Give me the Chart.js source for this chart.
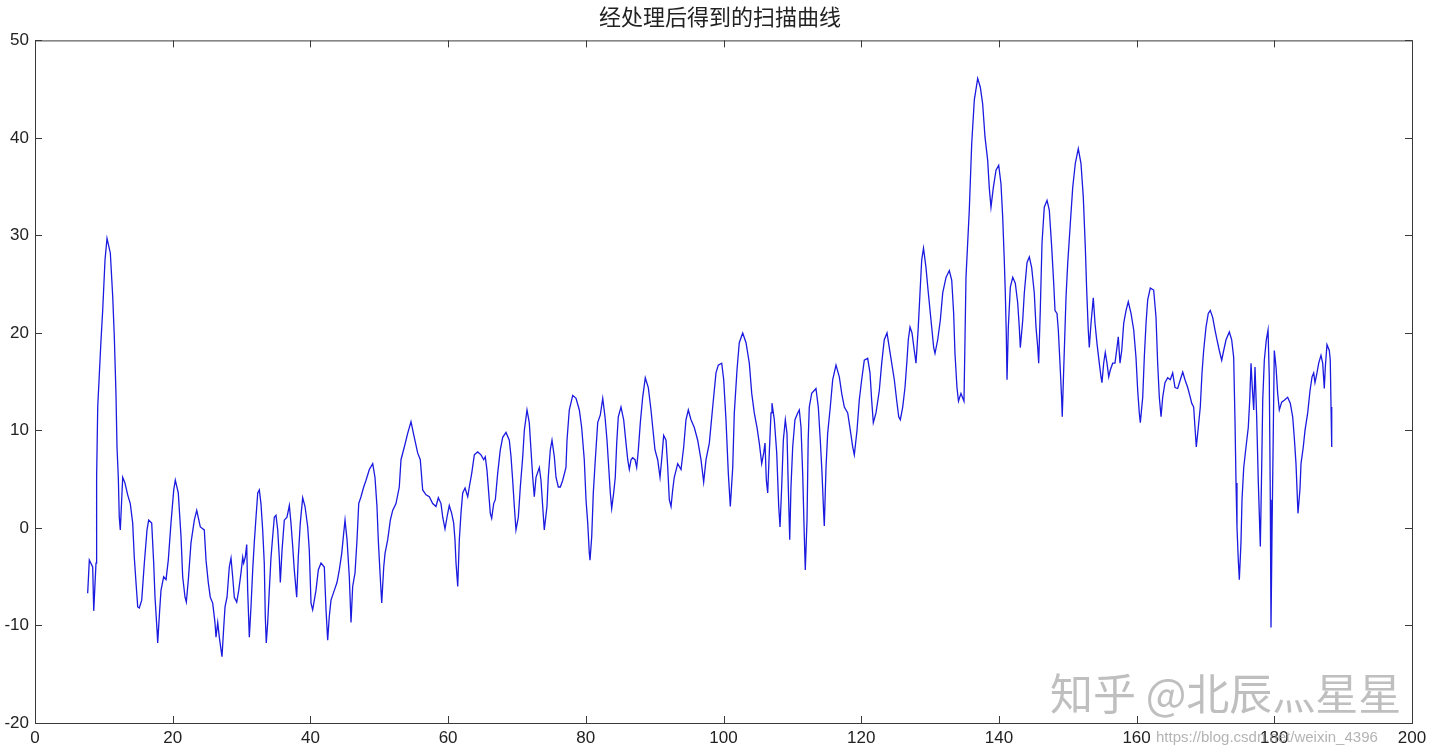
<!DOCTYPE html>
<html>
<head>
<meta charset="utf-8">
<script src="https://cdn.jsdelivr.net/npm/chart.js@4.4.1/dist/chart.umd.min.js"></script>
<style>
  html, body { margin: 0; padding: 0; background: #fff; }
  #chartBox { width: 1440px; height: 756px; position: relative; }
</style>
</head>
<body>
<div id="chartBox"><canvas id="scanChart"></canvas></div>
<script>
// curve: x positions and values
const xs = [7.65, 7.89, 8.38, 8.53, 8.86, 8.95, 9.11, 9.59, 9.83, 10.17, 10.46, 10.94, 11.29, 11.52, 11.76, 11.91, 12.10, 12.24, 12.39, 12.74,
  13.07, 13.46, 13.84, 14.19, 14.42, 14.67, 14.92, 15.15, 15.50, 15.88, 16.27, 16.51, 16.95, 17.24, 17.43, 17.72, 17.82, 18.11, 18.30, 18.69,
  19.03, 19.36, 19.75, 20.15, 20.38, 20.81, 21.21, 21.45, 21.79, 21.98, 22.27, 22.66, 23.14, 23.49, 24.01, 24.59, 24.84, 25.17, 25.46, 25.81,
  26.14, 26.29, 26.54, 26.77, 27.02, 27.16, 27.41, 27.60, 27.89, 28.22, 28.47, 28.71, 28.95, 29.30, 29.59, 29.92, 30.17, 30.31, 30.54, 30.75,
  30.89, 31.13, 31.37, 31.62, 31.85, 32.10, 32.35, 32.58, 32.82, 33.07, 33.30, 33.45, 33.59, 33.80, 34.03, 34.28, 34.52, 34.76, 35.00, 35.25,
  35.48, 35.63, 35.88, 36.21, 36.60, 36.94, 37.18, 37.43, 37.66, 38.01, 38.24, 38.53, 38.88, 39.22, 39.61, 39.84, 40.09, 40.33, 40.57, 40.81,
  41.15, 41.54, 42.02, 42.27, 42.51, 42.74, 42.99, 43.47, 43.86, 44.20, 44.55, 44.84, 45.03, 45.32, 45.65, 45.90, 46.14, 46.48, 46.77, 47.02,
  47.35, 47.74, 48.08, 48.56, 49.05, 49.38, 49.67, 49.86, 50.11, 50.36, 50.65, 50.84, 51.23, 51.61, 51.95, 52.43, 52.91, 53.16, 53.64, 54.13,
  54.61, 55.09, 55.58, 55.96, 56.31, 56.79, 57.27, 57.76, 58.24, 58.58, 58.97, 59.22, 59.55, 59.84, 60.17, 60.52, 60.81, 61.00, 61.15, 61.40,
  61.63, 61.87, 62.12, 62.46, 62.85, 63.08, 63.43, 63.81, 64.30, 64.78, 65.17, 65.40, 65.65, 65.90, 66.13, 66.33, 66.62, 66.86, 67.20, 67.58,
  67.93, 68.41, 68.89, 69.14, 69.38, 69.62, 69.86, 70.20, 70.49, 70.84, 71.07, 71.46, 71.79, 72.04, 72.29, 72.52, 72.77, 73.25, 73.49, 73.74,
  73.97, 74.36, 74.55, 74.84, 75.09, 75.43, 75.67, 76.01, 76.30, 76.65, 77.12, 77.27, 77.60, 78.10, 78.58, 79.06, 79.40, 79.78, 80.03, 80.28,
  80.51, 80.61, 80.86, 81.09, 81.38, 81.73, 82.11, 82.46, 82.79, 83.08, 83.33, 83.56, 83.76, 84.05, 84.28, 84.49, 84.72, 85.11, 85.50, 85.84,
  86.09, 86.32, 86.57, 86.81, 87.15, 87.39, 87.63, 87.92, 88.26, 88.64, 89.08, 89.47, 89.72, 90.05, 90.44, 90.78, 91.02, 91.31, 91.65, 91.90,
  92.13, 92.38, 92.62, 92.85, 93.35, 93.83, 94.22, 94.55, 94.89, 95.28, 95.76, 96.25, 96.73, 97.12, 97.46, 97.94, 98.43, 98.91, 99.24, 99.74,
  100.03, 100.36, 100.70, 100.99, 101.34, 101.57, 101.96, 102.29, 102.79, 103.27, 103.75, 104.10, 104.47, 104.87, 105.20, 105.55, 105.84, 106.03, 106.22, 106.42,
  106.65, 106.90, 107.04, 107.38, 107.73, 108.02, 108.21, 108.45, 108.69, 108.98, 109.22, 109.41, 109.62, 109.80, 110.05, 110.38, 110.78, 111.01, 111.26, 111.50,
  111.74, 111.88, 112.13, 112.30, 112.46, 112.81, 113.43, 113.77, 114.06, 114.31, 114.55, 114.64, 114.89, 115.13, 115.51, 115.86, 116.34, 116.82, 117.17, 117.55,
  118.04, 118.42, 118.77, 119.00, 119.39, 119.72, 120.07, 120.45, 120.94, 121.28, 121.52, 121.76, 122.15, 122.63, 122.98, 123.35, 123.75, 124.08, 124.43, 124.81,
  125.15, 125.45, 125.68, 126.03, 126.36, 126.65, 126.84, 127.09, 127.38, 127.71, 127.96, 128.29, 128.54, 128.79, 129.05, 129.41, 129.75, 130.14, 130.53, 130.72,
  131.11, 131.49, 131.84, 132.32, 132.80, 133.15, 133.43, 133.62, 133.91, 134.13, 134.49, 134.93, 135.22, 135.70, 136.05, 136.43, 136.92, 137.30, 137.64, 137.98,
  138.37, 138.60, 138.85, 139.19, 139.58, 139.97, 140.30, 140.55, 140.78, 140.93, 141.07, 141.18, 141.37, 141.66, 142.01, 142.38, 142.73, 142.96, 143.11, 143.46,
  143.69, 144.08, 144.42, 144.76, 145.14, 145.39, 145.64, 145.78, 146.01, 146.26, 146.59, 146.99, 147.32, 147.67, 147.96, 148.15, 148.44, 148.63, 148.92, 149.12,
  149.20, 149.41, 149.75, 150.00, 150.37, 150.72, 151.10, 151.53, 151.92, 152.26, 152.55, 152.75, 152.98, 153.13, 153.38, 153.71, 153.96, 154.25, 154.58, 154.83,
  154.97, 155.22, 155.45, 155.70, 155.95, 156.18, 156.53, 156.86, 157.15, 157.34, 157.59, 157.84, 158.13, 158.46, 158.79, 159.19, 159.58, 159.91, 160.16, 160.39,
  160.54, 160.89, 161.12, 161.37, 161.61, 161.99, 162.48, 162.82, 163.06, 163.30, 163.55, 163.79, 164.12, 164.52, 164.89, 165.24, 165.58, 165.97, 166.35, 166.70,
  167.03, 167.42, 167.80, 168.00, 168.29, 168.48, 168.67, 168.96, 169.25, 169.50, 169.74, 170.08, 170.41, 170.70, 171.05, 171.39, 171.68, 172.01, 172.36, 172.65,
  172.99, 173.47, 173.81, 174.10, 174.29, 174.44, 174.58, 174.77, 174.92, 175.16, 175.31, 175.56, 175.89, 176.22, 176.43, 176.62, 176.80, 177.01, 177.20, 177.44,
  177.68, 177.88, 177.97, 178.17, 178.32, 178.55, 178.84, 179.09, 179.27, 179.42, 179.52, 179.67, 179.85, 180.00, 180.25, 180.49, 180.73, 181.07, 181.45, 181.94,
  182.32, 182.67, 182.90, 183.15, 183.44, 183.73, 183.88, 184.21, 184.46, 184.85, 185.19, 185.48, 185.72, 185.91, 186.20, 186.45, 186.78, 187.03, 187.26, 187.41,
  187.65, 187.99, 188.13, 188.24, 188.34]

const ys = [-6.7, -3.3, -4.0, -8.5, -3.6, 5.2, 12.4, 19.3, 22.3, 27.5, 29.7, 28.2, 23.7, 19.6, 13.8, 8.3, 5.2, 1.1, -0.2, 5.2,
  4.6, 3.4, 2.5, 0.5, -3.0, -5.6, -8.1, -8.2, -7.4, -3.6, -0.2, 0.8, 0.5, -3.6, -7.1, -10.4, -11.8, -8.4, -6.4, -5.0,
  -5.3, -3.3, 0.5, 3.9, 4.9, 3.6, -0.9, -5.0, -7.1, -7.6, -5.3, -1.5, 0.8, 1.8, 0.1, -0.2, -3.3, -5.6, -7.1, -7.7,
  -9.7, -11.2, -9.7, -11.2, -12.5, -13.2, -10.2, -8.1, -7.1, -4.0, -3.1, -5.0, -7.1, -7.6, -6.4, -4.6, -3.0, -3.6, -3.0, -1.7,
  -6.4, -11.2, -8.1, -4.3, -1.5, 1.1, 3.6, 3.9, 2.5, -0.2, -3.6, -9.1, -11.8, -9.7, -6.4, -3.0, -0.9, 1.1, 1.3, -0.2,
  -3.0, -5.6, -2.3, 0.8, 1.1, 2.3, 0.5, -1.9, -4.3, -7.1, -3.0, 0.5, 3.1, 2.2, 0.1, -2.3, -7.7, -8.4, -7.4, -6.4,
  -4.3, -3.6, -4.0, -8.4, -11.5, -9.1, -7.4, -6.4, -5.6, -4.3, -2.6, -0.5, 0.8, -1.2, -5.0, -9.7, -6.0, -4.6, -1.2, 2.5,
  3.2, 4.2, 4.9, 6.0, 6.6, 5.2, 2.2, -1.2, -4.6, -7.7, -4.0, -2.6, -1.2, 0.8, 1.8, 2.5, 4.2, 7.0, 8.3, 9.7,
  10.9, 9.3, 7.7, 7.0, 3.9, 3.4, 3.2, 2.5, 2.2, 3.1, 2.5, 1.1, -0.1, 1.1, 2.3, 1.5, 0.5, -1.2, -3.6, -6.0,
  -1.2, 1.5, 3.6, 4.1, 3.2, 4.2, 5.6, 7.5, 7.8, 7.5, 7.0, 7.3, 5.9, 3.6, 1.5, 1.0, 2.5, 2.9, 5.6, 8.0,
  9.3, 9.8, 9.0, 7.3, 4.9, 2.2, -0.2, 1.1, 4.2, 7.3, 10.0, 12.1, 10.8, 8.0, 5.2, 3.2, 5.2, 6.2, 4.9, 2.2,
  -0.2, 2.2, 5.2, 8.0, 9.0, 7.3, 5.2, 4.2, 4.2, 4.9, 6.2, 9.0, 12.1, 13.6, 13.3, 12.1, 10.3, 7.0, 2.9, 0.5,
  -2.6, -3.3, -0.9, 3.6, 7.0, 10.8, 11.6, 13.3, 11.4, 9.0, 6.2, 3.6, 2.0, 3.6, 5.2, 8.7, 11.4, 12.4, 11.1, 8.7,
  7.0, 6.0, 7.0, 7.2, 7.0, 6.2, 8.0, 10.8, 13.4, 15.4, 14.4, 12.1, 10.3, 8.0, 7.0, 5.2, 7.0, 9.5, 9.0, 6.2,
  2.9, 2.2, 3.9, 5.2, 6.6, 6.0, 8.3, 11.1, 12.1, 11.1, 10.3, 9.0, 7.0, 4.7, 7.0, 8.7, 12.4, 15.9, 16.7, 16.9,
  15.2, 11.1, 5.6, 2.2, 6.2, 11.8, 16.2, 19.0, 20.0, 19.0, 16.9, 13.8, 11.8, 10.3, 8.7, 6.6, 7.7, 8.7, 4.9, 3.6,
  7.7, 11.8, 12.8, 11.1, 7.7, 2.2, 0.1, 4.2, 9.0, 11.1, 9.7, 4.2, -1.2, 4.2, 8.3, 11.1, 11.8, 12.1, 10.3, 5.6,
  -0.9, -4.3, 0.8, 9.0, 12.4, 13.8, 14.3, 12.4, 9.0, 5.6, 1.5, 0.2, 6.2, 9.7, 12.4, 15.2, 16.7, 15.5, 13.8, 12.4,
  11.8, 10.0, 8.3, 7.5, 10.0, 13.1, 15.2, 17.2, 17.4, 15.9, 13.1, 10.8, 11.8, 14.1, 16.9, 19.3, 20.0, 18.5, 16.9, 15.2,
  13.1, 11.4, 11.1, 12.4, 14.4, 17.2, 19.3, 20.6, 20.0, 18.2, 16.9, 20.6, 24.1, 27.5, 28.7, 26.7, 24.1, 21.3, 18.5, 17.9,
  19.3, 21.3, 24.1, 25.7, 26.4, 25.4, 22.0, 17.9, 14.4, 13.0, 13.8, 13.0, 25.7, 32.6, 39.4, 43.9, 46.1, 45.2, 43.5, 40.1,
  37.7, 34.9, 32.9, 34.9, 36.7, 37.2, 35.3, 31.9, 27.5, 24.1, 20.0, 15.2, 20.6, 24.7, 25.7, 25.1, 23.1, 20.6, 18.5, 21.3,
  24.1, 27.2, 27.8, 26.7, 24.1, 20.6, 18.5, 16.9, 22.3, 29.2, 32.9, 33.6, 32.6, 28.8, 25.1, 22.3, 22.0, 20.3, 16.2, 13.1,
  11.4, 16.2, 23.7, 27.2, 31.2, 34.9, 37.4, 38.9, 37.4, 33.9, 28.8, 24.4, 20.3, 18.5, 21.0, 23.6, 21.0, 18.9, 16.9, 15.5,
  14.9, 16.9, 18.0, 16.9, 15.5, 16.2, 16.9, 16.9, 18.5, 19.6, 16.9, 18.2, 21.0, 22.3, 23.2, 22.0, 20.3, 17.5, 14.1, 11.8,
  10.8, 13.4, 17.5, 21.0, 23.4, 24.6, 24.4, 21.6, 16.9, 13.4, 11.4, 13.4, 14.9, 15.4, 15.2, 15.9, 14.4, 14.3, 15.2, 16.0,
  15.2, 14.4, 13.4, 12.8, 12.4, 10.3, 8.3, 10.3, 12.4, 15.9, 18.2, 20.6, 22.0, 22.3, 21.6, 20.3, 19.3, 18.2, 17.2, 18.2,
  19.3, 20.1, 19.3, 17.5, 11.1, 4.6, 0.1, -3.3, -5.3, -1.5, 2.9, 6.2, 8.3, 10.3, 13.1, 16.9, 14.4, 12.1, 16.5, 11.4,
  4.6, 0.1, -1.9, 6.2, 13.1, 17.2, 19.3, 20.3, 15.5, 2.9, -10.2, -0.5, 9.7, 18.2, 16.5, 13.8, 12.1, 12.9, 13.1, 13.4,
  12.8, 11.4, 9.3, 6.6, 1.5, 4.0, 6.6, 8.3, 10.0, 11.8, 14.1, 15.5, 15.9, 14.9, 15.9, 16.9, 17.7, 16.9, 14.3, 16.5,
  18.8, 18.2, 17.2, 12.4, 8.3]

const xTicks = [0, 20, 40, 60, 80, 100, 120, 140, 160, 180, 200]
const yTicks = [-20, -10, 0, 10, 20, 30, 40, 50]
const chartTitle = '经处理后得到的扫描曲线'

let points = []
for (let i = 0; i < xs.length; i++) {
  points.push({ x: xs[i], y: ys[i] })
}

// matlab style box with ticks pointing inwards on all four sides
const boxTicks = {
  id: 'boxTicks',
  afterDraw(chart) {
    const ctx = chart.ctx
    const area = chart.chartArea
    const xScale = chart.scales.x
    const yScale = chart.scales.y
    const len = 7
    ctx.save()
    ctx.strokeStyle = '#3a3a3a'
    ctx.lineWidth = 1
    ctx.strokeRect(area.left + 0.5, area.top + 0.5, area.right - area.left, area.bottom - area.top)
    ctx.beginPath()
    xTicks.forEach(function (t) {
      const px = Math.round(xScale.getPixelForValue(t)) + 0.5
      ctx.moveTo(px, area.bottom)
      ctx.lineTo(px, area.bottom - len)
      ctx.moveTo(px, area.top)
      ctx.lineTo(px, area.top + len)
    })
    yTicks.forEach(function (t) {
      const py = Math.round(yScale.getPixelForValue(t)) + 0.5
      ctx.moveTo(area.left, py)
      ctx.lineTo(area.left + len, py)
      ctx.moveTo(area.right, py)
      ctx.lineTo(area.right - len, py)
    })
    ctx.stroke()

    // watermarks sitting in the lower right corner
    ctx.fillStyle = 'rgba(170,170,170,0.75)'
    ctx.font = '43px "Noto Sans CJK SC"'
    ctx.textBaseline = 'middle'
    ctx.fillText('知乎 @北辰灬星星', 1050, 694)
    ctx.font = '15px "Liberation Sans"'
    ctx.fillStyle = 'rgba(160,160,160,0.8)'
    ctx.fillText('https://blog.csdn.net/weixin_4396', 1156, 738)
    ctx.restore()
  }
}

new Chart(document.getElementById('scanChart'), {
  type: 'line',
  data: {
    datasets: [{
      label: 'scan',
      data: points,
      borderColor: '#1a1ae0',
      borderWidth: 1.3,
      pointRadius: 0,
      tension: 0,
      fill: false
    }]
  },
  options: {
    responsive: true,
    maintainAspectRatio: false,
    animation: false,
    layout: { padding: 0 },
    plugins: {
      legend: { display: false },
      tooltip: { enabled: false },
      title: {
        display: true,
        text: chartTitle,
        color: '#222',
        font: { family: '"Noto Sans CJK SC"', size: 22, weight: 'normal' },
        padding: { top: 3, bottom: 11 }
      }
    },
    scales: {
      x: {
        type: 'linear',
        min: 0,
        max: 200,
        afterBuildTicks: function (scale) {
          scale.ticks = xTicks.map(v => ({ value: v }))
        },
        afterFit: function (scale) { scale.height = 33 },
        grid: { drawOnChartArea: false, drawTicks: false },
        border: { display: false },
        ticks: {
          color: '#222',
          padding: 5,
          maxRotation: 0,
          font: { family: '"Liberation Sans"', size: 17 }
        }
      },
      y: {
        min: -20,
        max: 50,
        afterBuildTicks: function (scale) {
          scale.ticks = yTicks.map(v => ({ value: v }))
        },
        afterFit: function (scale) { scale.width = 35 },
        grid: { drawOnChartArea: false, drawTicks: false },
        border: { display: false },
        ticks: {
          color: '#222',
          padding: 6,
          font: { family: '"Liberation Sans"', size: 17 }
        }
      },
      // empty right axis, only keeps the margin on the right so the title stays centred
      yRight: {
        position: 'right',
        min: -20,
        max: 50,
        afterFit: function (scale) { scale.width = 28 },
        grid: { display: false },
        border: { display: false },
        ticks: { display: false }
      }
    }
  },
  plugins: [boxTicks]
})
</script>
</body>
</html>
